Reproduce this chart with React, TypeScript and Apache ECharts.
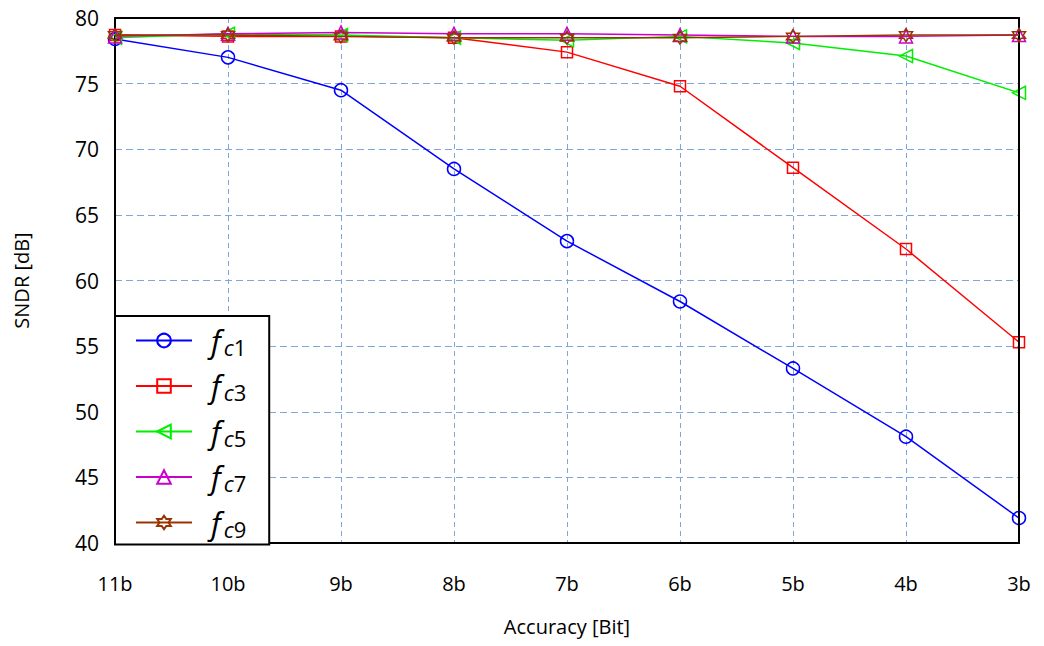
import React, { useEffect, useRef } from "react";
import * as echarts from "echarts";

const categories = ["11b", "10b", "9b", "8b", "7b", "6b", "5b", "4b", "3b"];
const seriesNames = ["fc1", "fc3", "fc5", "fc7", "fc9"];
const fc1 = [78.4, 77.0, 74.5, 68.5, 63.0, 58.4, 53.3, 48.1, 41.9];
const fc3 = [78.7, 78.6, 78.6, 78.5, 77.4, 74.8, 68.6, 62.4, 55.3];
const fc5 = [78.5, 78.8, 78.7, 78.5, 78.3, 78.6, 78.1, 77.1, 74.3];
const fc7 = [78.6, 78.8, 78.9, 78.8, 78.8, 78.7, 78.6, 78.6, 78.7];
const fc9 = [78.7, 78.7, 78.6, 78.5, 78.5, 78.5, 78.6, 78.7, 78.7];
const colors = ["#0000ff", "#ff0000", "#00ee00", "#cc00cc", "#993300"];
const yTicks = { min: 40, max: 80, interval: 5 };

const leftTriangle = "path://M0,5 L10,0 L10,10 Z";
const hexagram =
  "path://M0,-10 L2.887,-5 L8.66,-5 L5.774,0 L8.66,5 L2.887,5 L0,10 L-2.887,5 L-8.66,5 L-5.774,0 L-8.66,-5 L-2.887,-5 Z";

const symbols = ["circle", "rect", leftTriangle, "triangle", hexagram];
const symbolSizes = [13, 11, 13, 13, 13];

const FONT = '"Open Sans", "Noto Sans", sans-serif';

export default function App() {
  const ref = useRef<HTMLDivElement>(null);
  useEffect(() => {
    if (!ref.current) return;
    const chart = echarts.init(ref.current, undefined, { renderer: "svg" });
    const data = [fc1, fc3, fc5, fc7, fc9];
    const frameAxis = {
      axisLine: { show: true, lineStyle: { color: "#000", width: 2 } },
      axisTick: { show: false },
      axisLabel: { show: false },
      splitLine: { show: false },
    };
    chart.setOption({
      animation: false,
      backgroundColor: "#ffffff",
      grid: {
        left: 115,
        right: 25,
        top: 18,
        bottom: 103,
        show: false,
      },
      xAxis: [
        {
          type: "category",
          data: categories,
          boundaryGap: false,
          name: "Accuracy [Bit]",
          nameLocation: "middle",
          nameGap: 73,
          nameTextStyle: { fontFamily: FONT, fontSize: 20, color: "#000" },
          axisLine: { lineStyle: { color: "#000", width: 2 } },
          axisTick: { show: false },
          axisLabel: { fontFamily: FONT, fontSize: 20, color: "#000", margin: 30 },
          splitLine: {
            show: true,
            lineStyle: { color: "#7ea6dc", type: [5, 4], width: 1 },
          },
          z: 1,
        },
        {
          type: "category",
          data: categories,
          boundaryGap: false,
          position: "top",
          ...frameAxis,
          z: 5,
        },
      ],
      yAxis: [
        {
          type: "value",
          min: yTicks.min,
          max: yTicks.max,
          interval: yTicks.interval,
          name: "SNDR [dB]",
          nameLocation: "middle",
          nameGap: 84,
          nameTextStyle: { fontFamily: FONT, fontSize: 20, color: "#000" },
          axisLine: { show: true, lineStyle: { color: "#000", width: 2 } },
          axisTick: { show: false },
          axisLabel: { fontFamily: FONT, fontSize: 21, color: "#000", margin: 16 },
          splitLine: {
            show: true,
            lineStyle: { color: "#7ea6dc", type: [7, 4], width: 1 },
          },
          z: 1,
        },
        {
          type: "value",
          min: yTicks.min,
          max: yTicks.max,
          interval: yTicks.interval,
          position: "right",
          ...frameAxis,
          z: 5,
        },
      ],
      legend: {
        orient: "vertical",
        left: 115,
        top: 316,
        padding: [9, 23, 5, 20],
        itemGap: 13,
        itemWidth: 56,
        itemHeight: 17,
        backgroundColor: "#fff",
        borderColor: "#000",
        borderWidth: 2,
        z: 10,
        data: seriesNames,
        formatter: (name: string) => `{f|f}{c|c}{n|${name.slice(2)}}`,
        textStyle: {
          color: "#000",
          fontFamily: FONT,
          padding: [0, 0, 0, 14],
          rich: {
            f: { fontSize: 31, fontStyle: "italic", fontFamily: FONT, color: "#000", padding: [0, 3, 0, 0] },
            c: { fontSize: 22, fontStyle: "italic", fontFamily: FONT, color: "#000", padding: [12, 0, 0, 0] },
            n: { fontSize: 22, fontFamily: FONT, color: "#000", padding: [12, 0, 0, 0] },
          },
        },
      },
      series: seriesNames.map((name, i) => ({
        name,
        type: "line",
        data: data[i],
        symbol: symbols[i],
        symbolSize: symbolSizes[i],
        showAllSymbol: true,
        color: colors[i],
        lineStyle: { color: colors[i], width: 1.5 },
        itemStyle: { color: "rgba(255,255,255,0)", borderColor: colors[i], borderWidth: 1.5 },
        z: 2 + i,
      })),
    });
    return () => chart.dispose();
  }, []);
  return (
    <div
      ref={ref}
      style={{ position: "fixed", left: 0, top: 0, width: 1044, height: 646 }}
    />
  );
}
